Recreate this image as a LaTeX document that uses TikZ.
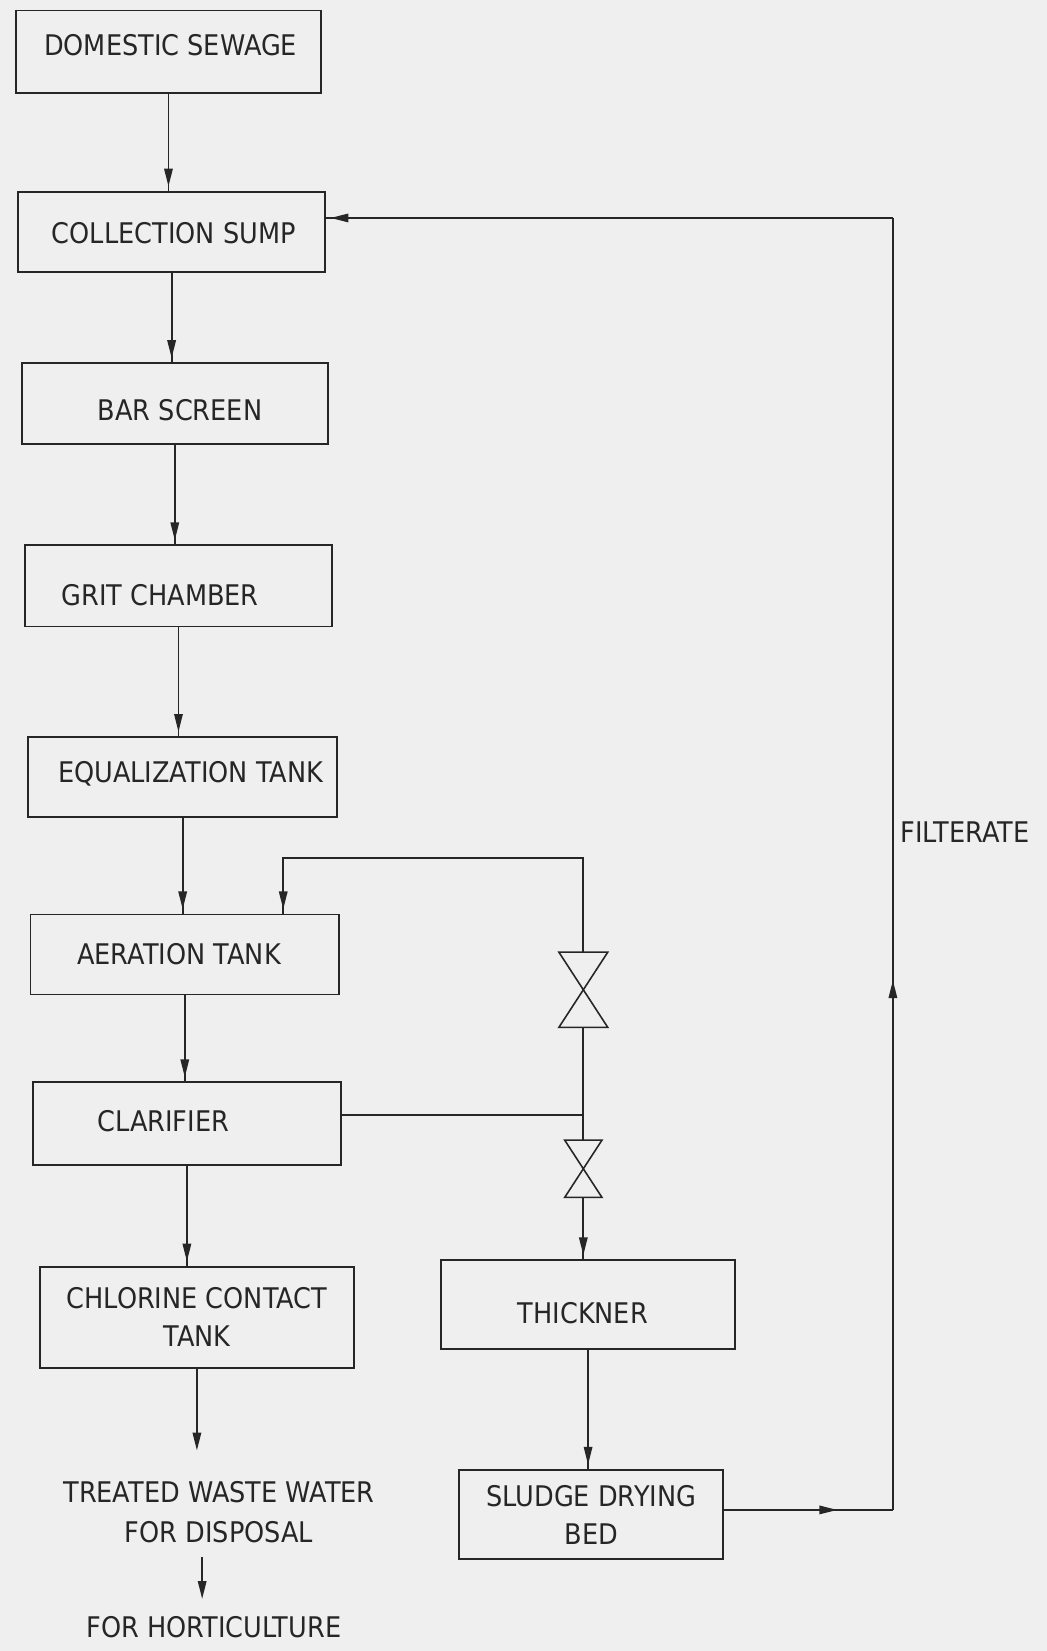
\documentclass[tikz,border=0pt]{standalone}
\usepackage{fontspec}
\setmainfont{DejaVu Sans}[FakeStretch=0.9]
\usetikzlibrary{arrows.meta,decorations.markings,calc}
\definecolor{paper}{RGB}{239,239,239}
\definecolor{ink}{RGB}{38,38,38}
% shift the visible text of a node without changing its size
\newcommand\txs[3]{\raisebox{#2}[\height][\depth]{\kern#1\relax #3\kern-#1\relax}}
\begin{document}
\begin{tikzpicture}[x=1pt,y=-1pt,
  box/.style={draw=ink, line width=1.8pt, rectangle, inner sep=0pt, text=ink,
    font=\fontsize{27}{36}\selectfont, align=center},
  lbl/.style={inner sep=0pt, text=ink, font=\fontsize{27}{38}\selectfont, align=center},
  valve/.style={rectangle, inner sep=0pt},
  conn/.style={draw=ink, line width=1.7pt},
  flow/.style={conn, postaction={decorate},
    decoration={markings, mark=at position -4pt with {\arrow{Triangle[length=17pt,width=8pt]}}}},
  midflow/.style={conn, postaction={decorate},
    decoration={markings, mark=at position #1 with {\arrow{Triangle[length=17pt,width=8pt]}}}},
  endflow/.style={conn, -{Triangle[length=17pt,width=8pt]}}
]
\fill[paper] (0,0) rectangle (994,1568);
\useasboundingbox (0,0) rectangle (994,1568);

% main chain
\node[box, minimum width=290pt, minimum height=78pt] (ds) at (160,49) {\txs{2pt}{6pt}{DOMESTIC SEWAGE}};
\node[box, minimum width=292pt, minimum height=76pt] (cs) at (163,220) {\txs{2pt}{-1pt}{COLLECTION SUMP}};
\node[box, minimum width=291pt, minimum height=77pt] (bs) at (166,383.5) {\txs{5pt}{-6.5pt}{BAR SCREEN}};
\node[box, minimum width=291pt, minimum height=77pt] (gc) at (169.5,556.5) {\txs{-17.5pt}{-8.5pt}{GRIT CHAMBER}};
\node[box, minimum width=293pt, minimum height=76pt] (et) at (173.5,738) {\txs{7.5pt}{3pt}{EQUALIZATION TANK}};
\node[box, minimum width=293pt, minimum height=76pt] (at) at (175.5,906.5) {\txs{-5.5pt}{0pt}{AERATION TANK}};
\node[box, minimum width=293pt, minimum height=78pt] (cl) at (177.5,1067) {\txs{-22.5pt}{2pt}{CLARIFIER}};
\node[box, minimum width=298pt, minimum height=96pt] (cct) at (187,1251) {CHLORINE CONTACT\\TANK};
\node[lbl] (tw) at (208,1436) {TREATED WASTE WATER\\FOR DISPOSAL};
\node[lbl] (hort) at (203,1545) {FOR HORTICULTURE};

% sludge branch
\node[box, minimum width=279pt, minimum height=84pt] (th) at (558.5,1239) {\txs{-5pt}{-8.5pt}{THICKNER}};
\node[box, minimum width=251pt, minimum height=85pt] (sdb) at (561.5,1438.5) {SLUDGE DRYING\\BED};
\node[valve, minimum width=46pt, minimum height=71pt] (v1) at (554,940) {};
\node[valve, minimum width=35pt, minimum height=54pt] (v2) at (554,1110) {};
\node[lbl, anchor=west] (filt) at (855,790) {FILTERATE};

% valve symbols
\draw[conn, line width=1.5pt, line join=miter] (v1.north west) -- (v1.south east) -- (v1.south west) -- (v1.north east) -- cycle;
\draw[conn, line width=1.5pt, line join=miter] (v2.north west) -- (v2.south east) -- (v2.south west) -- (v2.north east) -- cycle;

% main flow
\draw[flow] (ds.south) -- (ds.south |- cs.north);
\draw[flow] (cs.south) -- (cs.south |- bs.north);
\draw[flow] (bs.south) -- (bs.south |- gc.north);
\draw[flow] (gc.south) -- (gc.south |- et.north);
\draw[flow] (et.south) -- (et.south |- at.north);
\draw[flow] (at.south) -- (at.south |- cl.north);
\draw[flow] (cl.south) -- (cl.south |- cct.north);
\draw[endflow, shorten >=29pt] (cct.south) -- (cct.south |- tw.north);
\draw[endflow, shorten <=13pt, shorten >=16pt] ([xshift=-16pt]tw.south) -- ([xshift=-16pt]tw.south |- hort.north);

% return sludge and sludge line
\coordinate (brR) at (554,815);
\coordinate (brL) at (269,815);
\draw[flow] (v1.north) -- (brR) -- (brL) -- (brL |- at.north);
\draw[conn] (v1.south) -- (v2.north);
\draw[conn] ([yshift=8pt]cl.east) -- ([yshift=8pt]cl.east -| v1.south);
\draw[flow] (v2.south) -- (v2.south |- th.north);
\draw[flow] (th.south) -- (th.south |- sdb.north);

% filterate loop
\coordinate (rb) at (848,1434);
\coordinate (rt) at (848,207);
\draw[midflow=0.67] ([yshift=4.5pt]sdb.east) -- (rb);
\draw[midflow=0.41] (rb) -- (rt);
\draw[flow] (rt) -- ([yshift=13pt]cs.east);
\end{tikzpicture}
\end{document}
